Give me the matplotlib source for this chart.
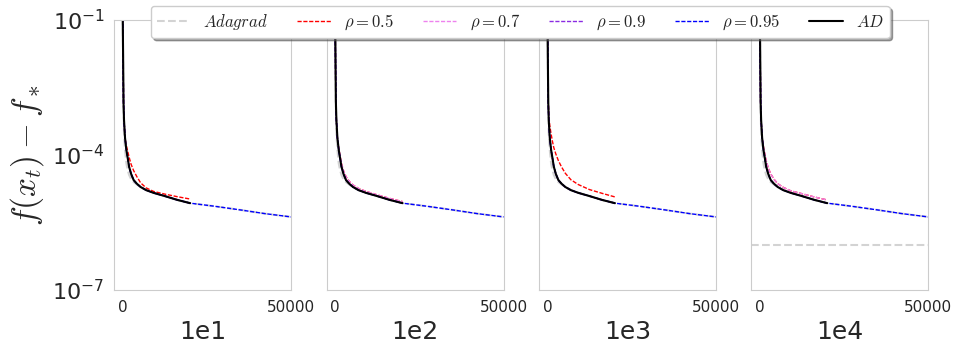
import matplotlib
matplotlib.use("Agg")
import matplotlib.pyplot as plt
import numpy as np
import seaborn as sns

sns.set_style("white")
plt.rcParams['font.family'] = ['DejaVu Sans']
plt.rcParams['mathtext.fontset'] = 'cm'

# panel titles (x labels)
panels = ['1e1', '1e2', '1e3', '1e4']

# iterations for the first 20000 steps
iters = [0, 150, 250, 400, 700, 1100, 1500, 1900, 2500, 3250, 4200, 5330, 7000, 9170, 12500, 16280, 20000]
# continuation of the long runs
iters_long = [20000, 27000, 35000, 42000, 50000]

# AD (same in every panel)
ad = [0.2, 1e-2, 1.5e-3, 6e-4, 2.4e-4, 1.29e-4, 8.5e-5, 5.5e-5, 3.8e-5, 2.77e-5, 2.3e-5, 1.94e-5,
      1.65e-5, 1.44e-5, 1.22e-5, 1.0e-5, 8.5e-6]

# Adagrad (same in every panel)
adagrad = [0.2, 8e-3, 1.2e-3, 3.0e-4, 1.3e-4, 6.5e-5, 4.6e-5, 3.6e-5, 2.9e-5, 2.5e-5, 2.2e-5, 1.94e-5,
           1.65e-5, 1.44e-5, 1.22e-5, 1.0e-5, 8.5e-6]
adagrad_floor = [None, None, None, 1.0e-6]   # plateau seen in the last panel

# rho = 0.95 tail after 20000
rho95_tail = [8.5e-6, 7.3e-6, 6.0e-6, 5.0e-6, 4.2e-6]

# curves that sit above AD
above_p1 = [0.2, 1e-2, 1.5e-3, 6e-4, 2.4e-4, 1.6e-4, 1.2e-4, 9e-5, 6.2e-5, 4.5e-5, 3.3e-5, 2.4e-5,
            1.85e-5, 1.55e-5, 1.35e-5, 1.18e-5, 1.05e-5]
above_p2 = [0.2, 1e-2, 1.5e-3, 6e-4, 2.4e-4, 1.4e-4, 9.5e-5, 6.5e-5, 4.5e-5, 3.3e-5, 2.6e-5, 2.15e-5,
            1.8e-5, 1.55e-5, 1.3e-5, 1.08e-5, 9.2e-6]
above_p3 = [0.2, 1e-2, 1.6e-3, 8e-4, 4.5e-4, 2.9e-4, 2.0e-4, 1.45e-4, 1.05e-4, 7.5e-5, 5.4e-5, 3.9e-5,
            2.8e-5, 2.2e-5, 1.7e-5, 1.4e-5, 1.17e-5]
above_p4 = [0.2, 1e-2, 1.5e-3, 6e-4, 2.4e-4, 1.5e-4, 1.05e-4, 7.5e-5, 5.2e-5, 3.8e-5, 2.9e-5, 2.3e-5,
            1.9e-5, 1.6e-5, 1.38e-5, 1.16e-5, 1.0e-5]

# series per panel
rho05 = [above_p1, above_p2, above_p3, above_p4]
rho07 = [ad, above_p2, ad, above_p4]
rho09 = [ad, ad, ad, ad]
rho095 = [ad, ad, ad, ad]

fig, axes = plt.subplots(1, 4, figsize=(9.6, 3.49), dpi=100, sharey=True)
fig.subplots_adjust(left=0.119, right=0.967, top=0.943, bottom=0.169, wspace=0.2)

dash = (3, 1.2)
lw_rho = 1.0
for i, ax in enumerate(axes):
    ax.plot(iters + iters_long[1:], adagrad + rho95_tail[1:], color='lightgray', ls='--', lw=1.5,
            label=r'$Adagrad$')
    if adagrad_floor[i] is not None:
        ax.axhline(adagrad_floor[i], color='lightgray', ls='--', lw=1.5)
    ax.plot(iters, rho05[i], color='red', ls='--', dashes=dash, lw=lw_rho, label=r'$\rho=0.5$')
    ax.plot(iters, rho07[i], color='violet', ls='--', dashes=dash, lw=lw_rho, label=r'$\rho=0.7$')
    ax.plot(iters, rho09[i], color='blueviolet', ls='--', dashes=dash, lw=lw_rho, label=r'$\rho=0.9$')
    ax.plot(iters + iters_long[1:], rho095[i] + rho95_tail[1:], color='blue', ls='--', dashes=dash,
            lw=lw_rho, label=r'$\rho=0.95$')
    ax.plot(iters, ad, color='black', lw=1.5, label=r'$AD$')

    ax.set_yscale('log')
    ax.set_ylim(1e-7, 1e-1)
    ax.set_xlim(-2500, 50000)
    ax.set_yticks([1e-1, 1e-4, 1e-7])
    ax.yaxis.set_minor_locator(matplotlib.ticker.NullLocator())
    ax.set_xticks([0, 50000])
    ax.tick_params(axis='x', labelsize=11, colors='.15')
    ax.tick_params(axis='y', labelsize=16, colors='.15')
    ax.set_xlabel(panels[i], fontsize=18, color='.15')
    for s in ax.spines.values():
        s.set_color('.8')

axes[0].set_ylabel(r'$f(x_t)-f_*$', fontsize=24)

handles, labels = axes[0].get_legend_handles_labels()
fig.legend(handles, labels, loc='center', bbox_to_anchor=(0.542, 0.937), ncol=6,
           fontsize=12, shadow=True, frameon=True, columnspacing=1.75, handlelength=2.0,
           handletextpad=0.8, borderpad=0.35)

plt.savefig('out.png', dpi=100)
